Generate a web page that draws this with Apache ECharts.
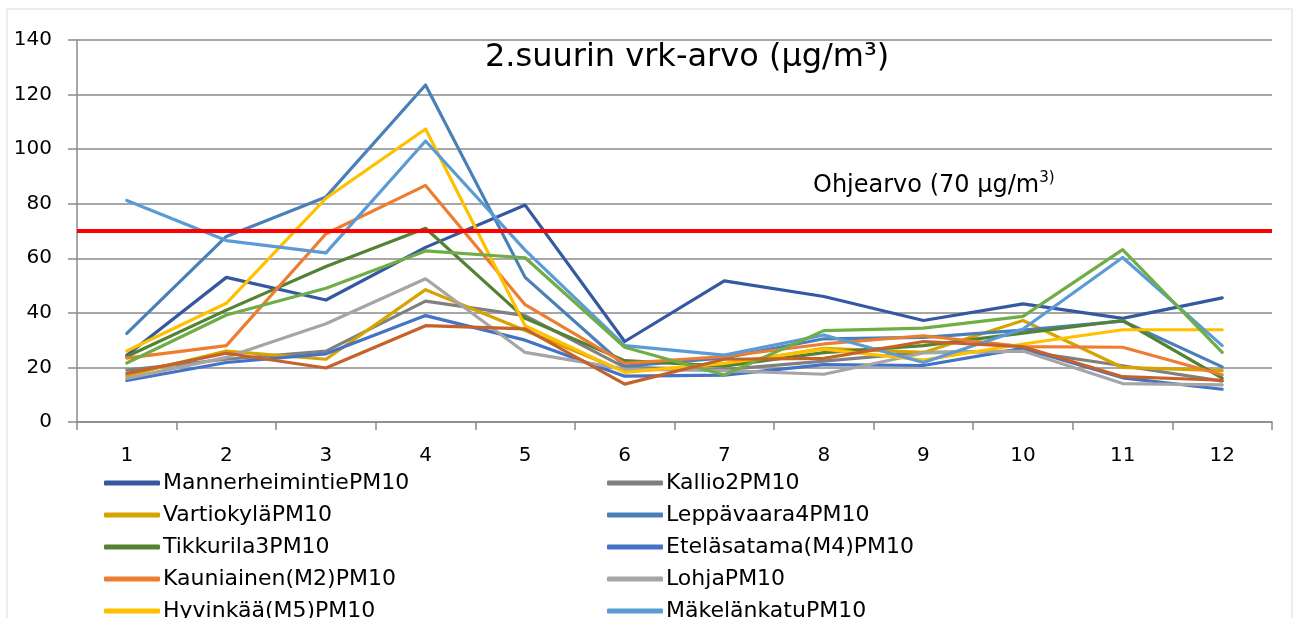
<!DOCTYPE html>
<html>
<head>
<meta charset="utf-8">
<title>2.suurin vrk-arvo</title>
<script src="https://cdn.jsdelivr.net/npm/echarts@6/dist/echarts.min.js"></script>
<style>
  html, body { margin: 0; padding: 0; background: #fff; }
  #chart { width: 1293px; height: 618px; }
</style>
</head>
<body>
<div id="chart"></div>
<script>
/* 
	数据
 */

// kuukaudet (x-akseli)
var months = ['1','2','3','4','5','6','7','8','9','10','11','12'];

// asemat, legendan järjestyksessä
var mannerheimintie = [24.5, 53, 44.7, 64, 79.5, 29.5, 51.7, 46, 37.2, 43.3, 38, 45.5];
var kallio2        = [19, 23, 26, 44.3, 39, 20, 19.2, 22.3, 25.5, 26, 20.6, 15];
var vartiokyla     = [17, 26, 23, 48.5, 33.5, 18.5, 21, 27, 25.5, 37.2, 20, 18.8];
var leppavaara4    = [32.5, 68, 82.5, 123.5, 53, 20.5, 23.5, 30.5, 31, 33.7, 37, 20.2];
var tikkurila3     = [24, 41, 57, 71, 38, 22.5, 20.5, 25.4, 28, 32.6, 37.2, 16.1];
var etelasatama    = [15.2, 21.8, 25, 39, 30, 16.8, 17.2, 21, 20.7, 27, 16.2, 12];
var kauniainen     = [23.4, 28, 69, 86.7, 43, 21.5, 24, 28.6, 31.6, 27.6, 27.4, 17.3];
var lohja          = [16, 23.7, 36, 52.5, 25.5, 19.4, 18.8, 17.5, 25.3, 26, 14.1, 13.6];
var hyvinkaa       = [26, 43.5, 82, 107.4, 35.3, 18.2, 21.5, 26.7, 22.7, 28.6, 33.8, 33.8];
var makelankatu    = [81.2, 66.5, 62, 103, 63, 28, 24.5, 31.9, 21.8, 34.1, 60.3, 28];
// legendasta leikkautuneet sarjat
var sarja11        = [21.6, 39.2, 49, 62.7, 60.2, 27.4, 17.2, 33.5, 34.4, 38.7, 63.2, 25.5];
var sarja12        = [17.8, 25.2, 19.8, 35.3, 34.1, 13.9, 23, 23.3, 29.5, 27.6, 16.6, 15.3];

// ohjearvo
var ohjearvo = 70;

// y-akselin asteikko
var yMin = 0, yMax = 140, yStep = 20;

var legendLeft  = ['MannerheimintiePM10','VartiokyläPM10','Tikkurila3PM10','Kauniainen(M2)PM10','Hyvinkää(M5)PM10'];
var legendRight = ['Kallio2PM10','Leppävaara4PM10','Eteläsatama(M4)PM10','LohjaPM10','MäkelänkatuPM10'];

var seriesList = [
	{name:'MannerheimintiePM10', data:mannerheimintie, color:'#3459A0'},
	{name:'Kallio2PM10', data:kallio2, color:'#808080'},
	{name:'VartiokyläPM10', data:vartiokyla, color:'#D6A300'},
	{name:'Leppävaara4PM10', data:leppavaara4, color:'#4A80B8'},
	{name:'Tikkurila3PM10', data:tikkurila3, color:'#548235'},
	{name:'Eteläsatama(M4)PM10', data:etelasatama, color:'#4472C4'},
	{name:'Kauniainen(M2)PM10', data:kauniainen, color:'#ED7D31'},
	{name:'LohjaPM10', data:lohja, color:'#A5A5A5'},
	{name:'Hyvinkää(M5)PM10', data:hyvinkaa, color:'#FFC000'},
	{name:'MäkelänkatuPM10', data:makelankatu, color:'#5B9BD5'},
	{name:'Sarja11PM10', data:sarja11, color:'#70AD47'},
	{name:'Sarja12PM10', data:sarja12, color:'#C5622A'}
];

var font = 'DejaVu Sans';
var gridColor = '#8a8a8a';

var chart = echarts.init(document.getElementById('chart'));

var series = seriesList.map(function(s){
	return {
		name: s.name,
		type: 'line',
		data: s.data,
		symbol: 'none',
		color: s.color,
		lineStyle: { width: 3.2, color: s.color, cap: 'round', join: 'round' },
		emphasis: { disabled: true }
	};
});

// punainen ohjearvoviiva
series.push({
	name: 'ohjearvo',
	type: 'line',
	data: [],
	silent: true,
	markLine: {
		silent: true,
		symbol: 'none',
		label: { show: false },
		lineStyle: { color: '#FF0000', width: 4, type: 'solid' },
		data: [{ yAxis: ohjearvo }]
	}
});

// kaksi pystylegendaa rinnakkain
function legendOpt(names, left){
	return {
		type: 'plain',
		data: names,
		orient: 'vertical',
		left: left,
		top: 467,
		height: 260,
		itemWidth: 56,
		itemHeight: 5,
		itemGap: 10,
		icon: 'roundRect',
		textStyle: { fontFamily: font, fontSize: 22, color: '#000', lineHeight: 22, padding: [0,0,0,-2] },
		selectedMode: false
	};
}

var option = {
	animation: false,
	title: [{
		text: '2.suurin vrk-arvo (µg/m³)',
		left: 480,
		top: 37,
		textStyle: { fontFamily: font, fontSize: 32, fontWeight: 'normal', color: '#000' }
	},{
		text: 'Ohjearvo (70 µg/m{sup|3)}',
		left: 808,
		top: 166,
		textStyle: {
			fontFamily: font, fontSize: 24, fontWeight: 'normal', color: '#000',
			rich: { sup: { fontFamily: font, fontSize: 15, color: '#000', verticalAlign: 'top', padding: [0,0,14,0] } }
		}
	}],
	legend: [ legendOpt(legendLeft, 99), legendOpt(legendRight, 602) ],
	grid: { left: 77, right: 21, top: 40, bottom: 196, containLabel: false },
	xAxis: {
		type: 'category',
		data: months,
		boundaryGap: true,
		axisLine: { show: true, lineStyle: { color: gridColor, width: 1.5 } },
		axisTick: { show: true, length: 8, lineStyle: { color: gridColor, width: 1.5 } },
		axisLabel: { margin: 24, fontFamily: font, fontSize: 20, color: '#000' }
	},
	yAxis: {
		type: 'value',
		min: yMin,
		max: yMax,
		interval: yStep,
		axisLine: { show: true, lineStyle: { color: gridColor, width: 1.5 } },
		axisTick: { show: true, length: 9, lineStyle: { color: gridColor, width: 1.5 } },
		splitLine: { show: true, lineStyle: { color: gridColor, width: 1.5 } },
		axisLabel: { margin: 25, fontFamily: font, fontSize: 20, color: '#000' }
	},
	graphic: [{
		type: 'rect',
		silent: true,
		shape: { x: 7, y: 9, width: 1285, height: 700 },
		style: { fill: 'none', stroke: '#d9d9d9', lineWidth: 1 }
	}],
	series: series
};

chart.setOption(option);
</script>
</body>
</html>
